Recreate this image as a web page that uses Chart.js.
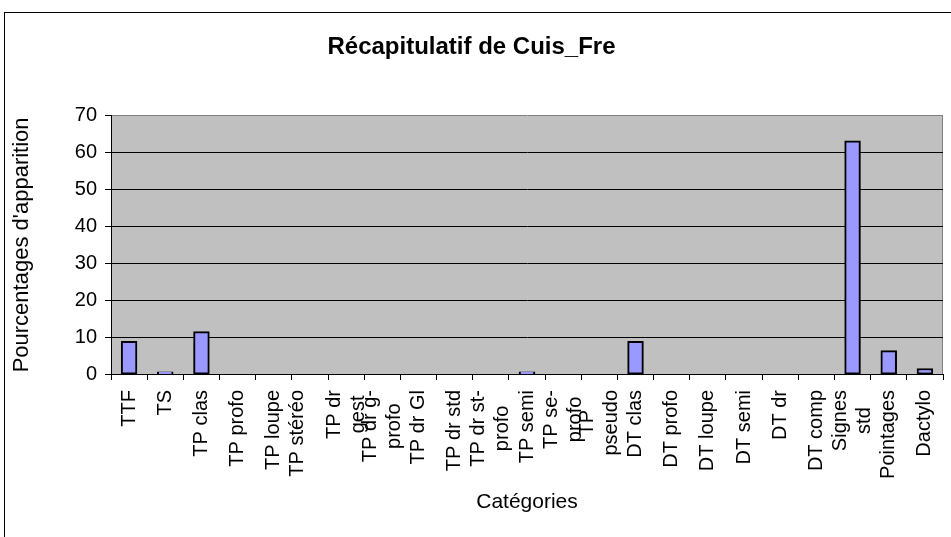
<!DOCTYPE html>
<html>
<head>
<meta charset="utf-8">
<title>Récapitulatif de Cuis_Fre</title>
<script src="https://cdn.jsdelivr.net/npm/chart.js@4.4.1/dist/chart.umd.min.js"></script>
<style>
    html, body { margin: 0; padding: 0; background: #fff; }
    .frame {
        position: absolute; left: 4px; top: 12px; width: 980px; height: 560px;
        border-left: 1px solid #000; border-top: 1px solid #000;
    }
    .chart-box { position: absolute; left: 0; top: 0; width: 951px; height: 537px; }
</style>
</head>
<body>
<div class="frame"></div>
<div class="chart-box"><canvas id="recap-chart"></canvas></div>
<script>
const categories = [
    'TTF', 'TS', 'TP clas', 'TP profo', 'TP loupe', ['TP stéréo', ''],
    ['TP dr', 'gest'], ['TP dr g-', 'profo'], 'TP dr Gl', 'TP dr std',
    ['TP dr st-', 'profo'], 'TP semi', ['TP se-', 'profo'], ['TP', 'pseudo'],
    'DT clas', 'DT profo', 'DT loupe', 'DT semi', 'DT dr', 'DT comp',
    ['Signes', 'std'], 'Pointages', 'Dactylo'
];
const percentages = [
    8.7, 0.4, 11.3, 0, 0, 0,
    0, 0, 0, 0,
    0, 0.4, 0, 0,
    8.7, 0, 0, 0, 0, 0,
    63.0, 6.2, 1.3
];
const yTicks = [0, 10, 20, 30, 40, 50, 60, 70];

const FONT = '"Liberation Sans", Arial, sans-serif';

// grey plot area with a darker right edge
const plotBackground = {
    id: 'plotBackground',
    beforeDraw(chart) {
        const { ctx, chartArea: a } = chart;
        ctx.save();
        ctx.fillStyle = '#c0c0c0';
        ctx.fillRect(a.left, a.top, a.right - a.left, a.bottom - a.top);
        ctx.strokeStyle = '#808080';
        ctx.lineWidth = 1;
        ctx.beginPath();
        ctx.moveTo(a.right - 0.5, a.top);
        ctx.lineTo(a.right - 0.5, a.bottom);
        ctx.stroke();
        ctx.restore();
    }
};

// vertical category labels: the block hangs from the axis, wrapped lines
// are centred on each other and on their tick
const categoryLabels = {
    id: 'categoryLabels',
    afterDraw(chart) {
        const scale = chart.scales.x;
        const { ctx } = chart;
        const lineHeight = 24;
        const top = scale.top + 16;
        ctx.save();
        ctx.font = '20px ' + FONT;
        ctx.fillStyle = '#000';
        ctx.textAlign = 'center';
        ctx.textBaseline = 'middle';
        chart.data.labels.forEach((label, i) => {
            const lines = Array.isArray(label) ? label : [label];
            const blockW = Math.max(...lines.map(l => ctx.measureText(l).width));
            const x = scale.getPixelForTick(i);
            ctx.save();
            ctx.translate(x, top);
            ctx.rotate(-Math.PI / 2);
            lines.forEach((line, j) => {
                ctx.fillText(line, -blockW / 2, (j - (lines.length - 1) / 2) * lineHeight);
            });
            ctx.restore();
        });
        ctx.restore();
    }
};

const ctx = document.getElementById('recap-chart').getContext('2d');
new Chart(ctx, {
    type: 'bar',
    data: {
        labels: categories,
        datasets: [{
            label: 'Pourcentages',
            data: percentages,
            backgroundColor: '#9999ff',
            borderColor: '#000',
            borderWidth: 2,
            borderSkipped: false,
            inflateAmount: 1,
            categoryPercentage: 1,
            barPercentage: 0.4
        }]
    },
    options: {
        responsive: true,
        maintainAspectRatio: false,
        animation: false,
        layout: { padding: { left: 0, right: 8, top: 0, bottom: 0 } },
        plugins: {
            legend: { display: false },
            tooltip: { enabled: false },
            title: {
                display: true,
                text: 'Récapitulatif de Cuis_Fre',
                color: '#000',
                font: { family: FONT, size: 24, weight: 'bold' },
                padding: { top: 33, bottom: 54 }
            }
        },
        scales: {
            x: {
                grid: { drawOnChartArea: false, drawTicks: true, tickLength: 6, color: '#000', offset: true },
                border: { display: true, color: '#000', width: 1 },
                ticks: { display: false, autoSkip: false },
                title: {
                    display: true, text: 'Catégories', color: '#000',
                    font: { family: FONT, size: 21 },
                    padding: { top: 0, bottom: 22 }
                },
                afterFit(scale) { scale.height = 163; }
            },
            y: {
                min: 0,
                max: 70,
                afterBuildTicks(scale) { scale.ticks = yTicks.map(v => ({ value: v })); },
                grid: {
                    color: c => (c.tick && c.tick.value === 70 ? '#808080' : '#000'),
                    tickColor: '#000',
                    tickLength: 6
                },
                border: { display: true, color: '#000', width: 1 },
                ticks: { color: '#000', padding: 8, font: { family: FONT, size: 20 } },
                title: {
                    display: true, text: 'Pourcentages d\'apparition', color: '#000',
                    font: { family: FONT, size: 22 },
                    padding: { top: 9, bottom: 0 }
                },
                afterFit(scale) { scale.width = 111; }
            }
        }
    },
    plugins: [plotBackground, categoryLabels]
});
</script>
</body>
</html>
